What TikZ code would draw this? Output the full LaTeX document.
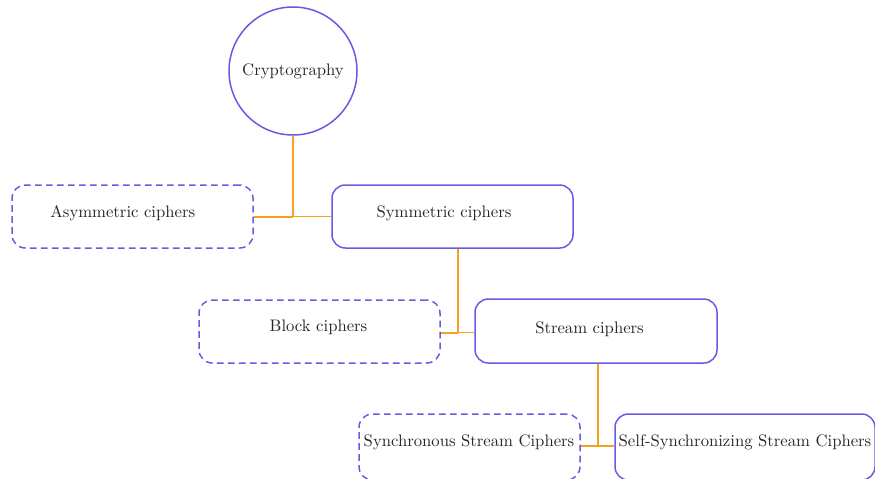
\documentclass[tikz,border=0pt]{standalone}
\definecolor{boxpurple}{RGB}{106,90,224}
\definecolor{linkorange}{RGB}{245,160,30}
\begin{document}
\begin{tikzpicture}[x=0.6pt,y=-0.6pt,
  solidbox/.style={draw=boxpurple,line width=0.9pt,rounded corners=8pt,minimum height=37.8pt,inner sep=0pt},
  dashbox/.style={solidbox,dash pattern=on 4pt off 2.6pt},
  lbl/.style={anchor=base,inner sep=0pt,text=black!85},
  link/.style={draw=linkorange,line width=0.9pt},
  thicklink/.style={link,line width=1.3pt}]
\useasboundingbox (0,0) rectangle (875,478);
% nodes
\node[circle,draw=boxpurple,line width=0.9pt,minimum size=76.8pt,inner sep=0pt,text=black!85] (crypto) at (293,71) {Cryptography};
\node[dashbox,minimum width=144.6pt] (asym) at (132.5,216.5) {};
\node[solidbox,minimum width=144.6pt] (sym) at (452.5,216.5) {};
\node[dashbox,minimum width=144.6pt] (block) at (319.5,331.5) {};
\node[solidbox,minimum width=145.2pt,minimum height=38.4pt] (stream) at (596,331) {};
\node[dashbox,minimum width=132.6pt,minimum height=39.6pt] (sync) at (469.5,447) {};
\node[solidbox,minimum width=156pt,minimum height=39.6pt] (self) at (745,447) {};
% labels
\node[lbl] (tasym) at (122.8,217.3) {Asymmetric ciphers};
\node[lbl] (tsym) at (444,217.3) {Symmetric ciphers};
\node[lbl] (tblock) at (318.5,331) {Block ciphers};
\node[lbl] (tstream) at (589.5,333) {Stream ciphers};
\node[lbl] (tsync) at (469,446) {Synchronous Stream Ciphers};
\node[lbl] (tself) at (745,446.5) {Self-Synchronizing Stream Ciphers};
% connectors
\coordinate (j1) at (293,216.7);
\coordinate (j2) at (458,332.7);
\coordinate (j3) at (598,446);
\draw[link] (crypto.south) -- (j1);
\draw[thicklink] (j1) -- (asym.east |- j1);
\draw[link] (j1) -- (sym.west |- j1);
\draw[link] (sym.south -| j2) -- (j2);
\draw[thicklink] (j2) -- (block.east |- j2);
\draw[link] (j2) -- (stream.west |- j2);
\draw[link] (stream.south -| j3) -- (j3);
\draw[thicklink] (j3) -- (sync.east |- j3);
\draw[link] (j3) -- (self.west |- j3);
\end{tikzpicture}
\end{document}
